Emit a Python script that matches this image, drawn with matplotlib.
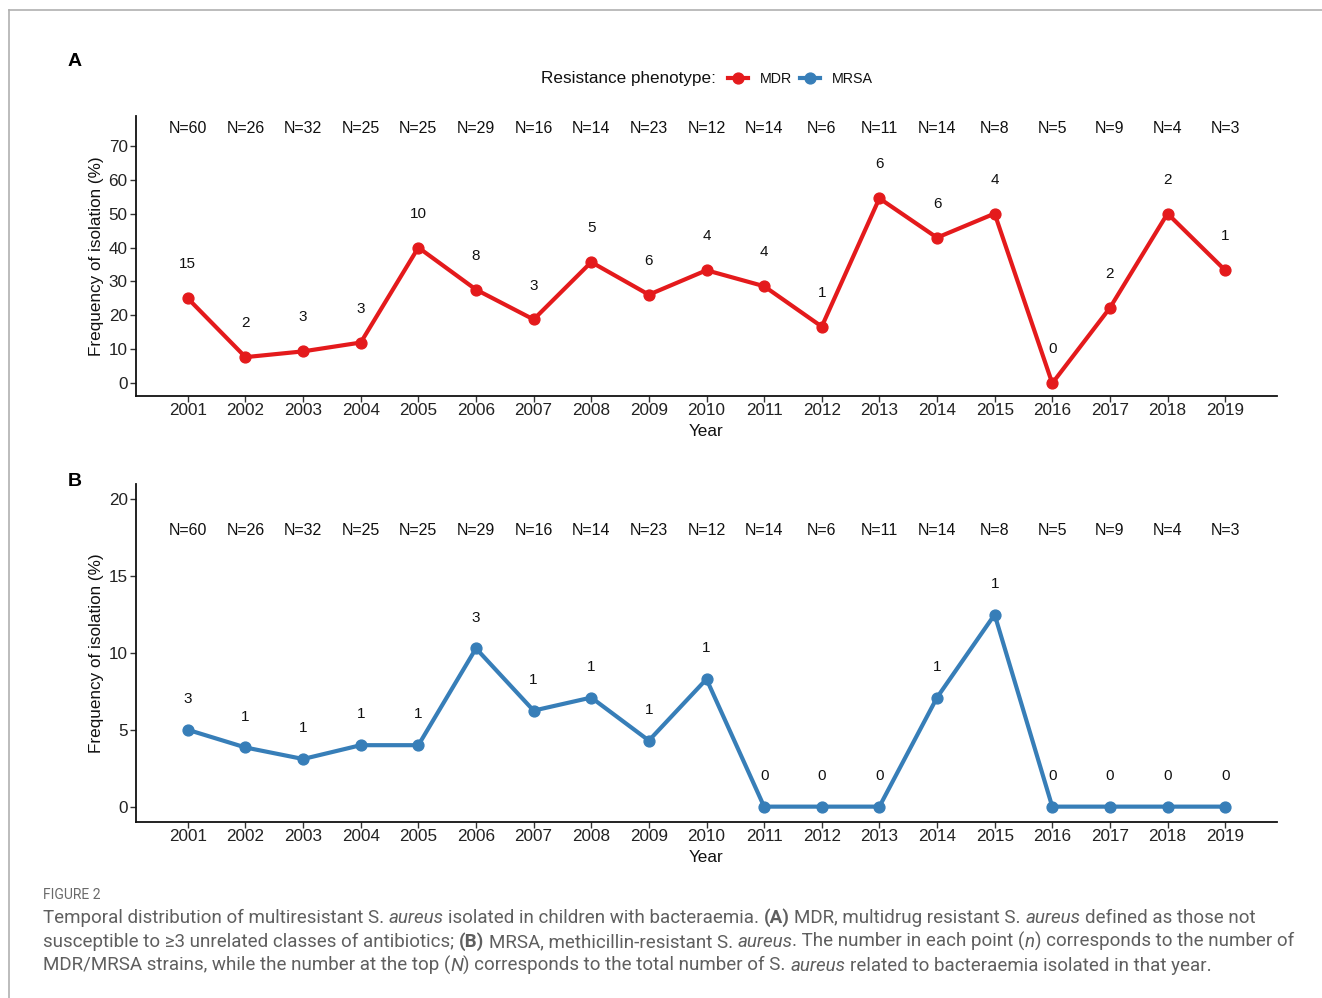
import matplotlib
matplotlib.use("Agg")
import matplotlib.pyplot as plt
from matplotlib.lines import Line2D

# ---------------- data ----------------
years = [2001, 2002, 2003, 2004, 2005, 2006, 2007, 2008, 2009, 2010,
         2011, 2012, 2013, 2014, 2015, 2016, 2017, 2018, 2019]
total_N = [60, 26, 32, 25, 25, 29, 16, 14, 23, 12, 14, 6, 11, 14, 8, 5, 9, 4, 3]
mdr_n = [15, 2, 3, 3, 10, 8, 3, 5, 6, 4, 4, 1, 6, 6, 4, 0, 2, 2, 1]
mdr_pct = [25.0, 7.7, 9.4, 12.0, 40.0, 27.6, 18.8, 35.7, 26.1, 33.3,
           28.6, 16.7, 54.5, 42.9, 50.0, 0.0, 22.2, 50.0, 33.3]
mrsa_n = [3, 1, 1, 1, 1, 3, 1, 1, 1, 1, 0, 0, 0, 1, 1, 0, 0, 0, 0]
mrsa_pct = [5.0, 3.85, 3.1, 4.0, 4.0, 10.3, 6.25, 7.1, 4.3, 8.3,
            0.0, 0.0, 0.0, 7.1, 12.5, 0.0, 0.0, 0.0, 0.0]
series_names = ["MDR", "MRSA"]
colors = ["#E41A1C", "#377EB8"]

W, H = 1322, 998
fig = plt.figure(figsize=(W / 100, H / 100), dpi=100)
fig.patch.set_facecolor("white")
FONT = ["Liberation Sans", "Arial", "DejaVu Sans"]


def fx(px):
    return px / W


def fy(py):
    return 1 - py / H


def add_ax(l, t, r, b):
    return fig.add_axes([fx(l), fy(b), (r - l) / W, (b - t) / H])


# border of the figure box
fig.add_artist(Line2D([fx(9), 1], [fy(10), fy(10)], color="#b0b0b0", lw=1.2))
fig.add_artist(Line2D([fx(9), fx(9)], [fy(10), 0], color="#b0b0b0", lw=1.2))

AX_L, AX_R = 136, 1277


def style_ax(ax, ylim, yticks):
    ax.set_xlim(2000.1, 2019.9)
    ax.set_ylim(*ylim)
    ax.set_yticks(yticks)
    ax.set_xticks(years)
    ax.set_xticklabels([str(y) for y in years])
    for s in ["top", "right"]:
        ax.spines[s].set_visible(False)
    for s in ["left", "bottom"]:
        ax.spines[s].set_linewidth(1.3)
        ax.spines[s].set_color("#111111")
    ax.tick_params(axis="both", direction="out", length=4, width=1.0,
                   color="#333333", labelsize=12.3, labelcolor="#222222", pad=2)
    ax.tick_params(axis="x", pad=1)
    for lab in ax.get_xticklabels() + ax.get_yticklabels():
        lab.set_family(FONT)
    ax.set_xlabel("Year", fontsize=12.3, family=FONT, labelpad=4, color="#111111")
    ax.set_ylabel("Frequency of isolation (%)", fontsize=12.3, family=FONT,
                  color="#111111")
    ax.yaxis.set_label_coords((104 - AX_L) / (AX_R - AX_L), 0.5)


def draw_panel(ax, pct, ns, color, ylim, yticks, n_y, off):
    style_ax(ax, ylim, yticks)
    ax.plot(years, pct, color=color, lw=3.0, marker="o", ms=7.8, zorder=3,
            solid_capstyle="round")
    for yr, p, n in zip(years, pct, ns):
        ax.text(yr, p + off, str(n), ha="center", va="center",
                fontsize=11, family=FONT, color="#111111")
    for yr, N in zip(years, total_N):
        ax.text(yr, n_y, f"N={N}", ha="center", va="center",
                fontsize=11.5, family=FONT, color="#111111")


axA = add_ax(AX_L, 116, AX_R, 396)
draw_panel(axA, mdr_pct, mdr_n, colors[0], (-3.75, 78.75),
           range(0, 71, 10), 75, 10)

axB = add_ax(AX_L, 484, AX_R, 822)
draw_panel(axB, mrsa_pct, mrsa_n, colors[1], (-1, 21),
           [0, 5, 10, 15, 20], 18, 2)

# panel letters
fig.text(fx(75), fy(61), "A", fontsize=14, weight="bold", family=FONT,
         ha="center", va="center")
fig.text(fx(75), fy(481), "B", fontsize=14, weight="bold", family=FONT,
         ha="center", va="center")

# legend
fig.text(fx(716), fy(79), "Resistance phenotype:", fontsize=12.3, family=FONT,
         ha="right", va="center", color="#111111")
key_x = [738, 810]
lab_x = [760, 832]
for name, c, kx, lx in zip(series_names, colors, key_x, lab_x):
    fig.add_artist(Line2D([fx(kx - 10), fx(kx + 10)], [fy(78), fy(78)],
                          color=c, lw=3.0))
    fig.add_artist(Line2D([fx(kx)], [fy(78)], color=c, marker="o", ms=7.8, lw=0))
    fig.text(fx(lx), fy(79), name, fontsize=10.3, family=FONT, ha="left",
             va="center", color="#111111")

# caption
CAP = ["Roboto", "DejaVu Sans"]
cap_color = "#5f5f5f"
renderer = fig.canvas.get_renderer()
fig.text(fx(43), fy(899), "FIGURE 2", fontsize=10, family=CAP,
         color="#6a6a6a", va="baseline")

cap_size = 13.5


def text_width(s, style="normal", weight="normal"):
    t = fig.text(0, 0, s, fontsize=cap_size, family=CAP, style=style,
                 weight=weight)
    w = t.get_window_extent(renderer).width
    t.remove()
    return w


space_w = text_width("x x") - text_width("xx")


def rich_line(x0, y0, segs):
    x = x0
    for s, st, wt in segs:
        lead = len(s) - len(s.lstrip(" "))
        trail = len(s) - len(s.rstrip(" "))
        core = s.strip(" ")
        x += lead * space_w
        if core:
            t = fig.text(fx(x), fy(y0), core, fontsize=cap_size, family=CAP,
                         style=st, weight=wt, color=cap_color, va="baseline")
            x += t.get_window_extent(renderer).width
        x += trail * space_w


N_, I_, B_ = "normal", "italic", "bold"
rich_line(43, 923, [
    ("Temporal distribution of multiresistant S. ", N_, N_), ("aureus", I_, N_),
    (" isolated in children with bacteraemia. ", N_, N_), ("(A)", N_, B_),
    (" MDR, multidrug resistant S. ", N_, N_), ("aureus", I_, N_),
    (" defined as those not", N_, N_)])
rich_line(43, 947, [
    ("susceptible to \u22653 unrelated classes of antibiotics; ", N_, N_),
    ("(B)", N_, B_), (" MRSA, methicillin-resistant S. ", N_, N_),
    ("aureus", I_, N_),
    (". The number in each point (", N_, N_), ("n", I_, N_),
    (") corresponds to the number of", N_, N_)])
rich_line(43, 971, [
    ("MDR/MRSA strains, while the number at the top (", N_, N_), ("N", I_, N_),
    (") corresponds to the total number of S. ", N_, N_), ("aureus", I_, N_),
    (" related to bacteraemia isolated in that year.", N_, N_)])

fig.savefig("out.png", dpi=100, facecolor="white")
